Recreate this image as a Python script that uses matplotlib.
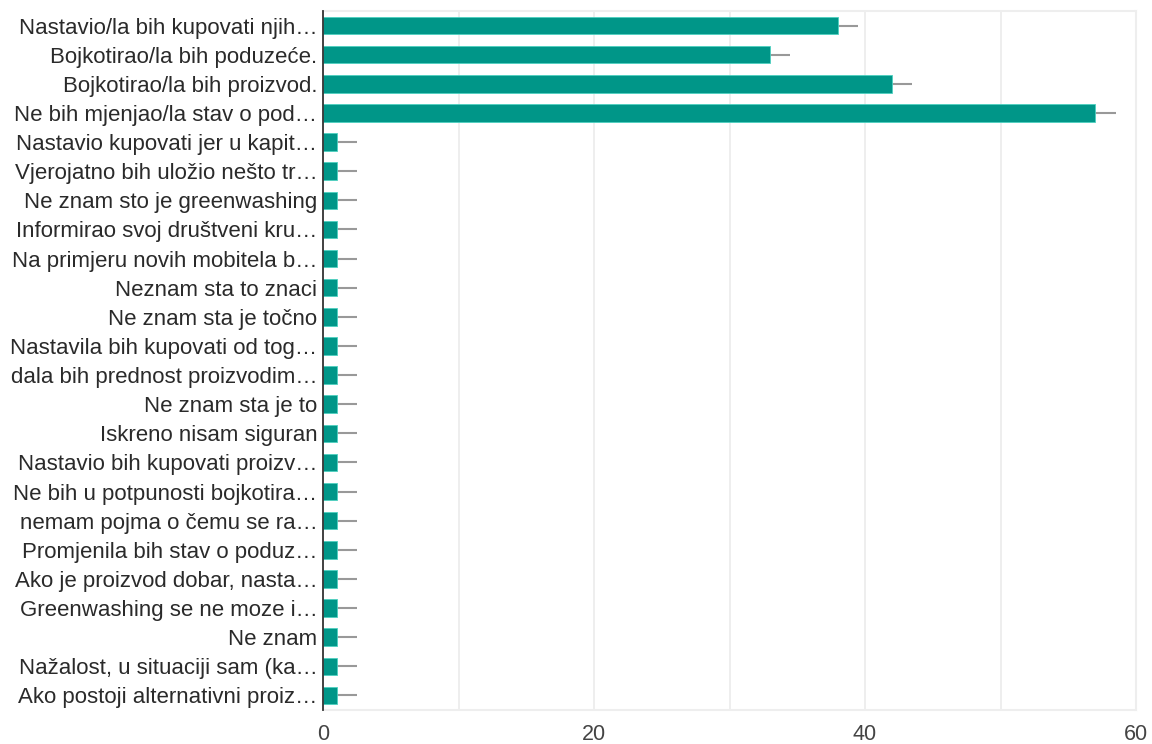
import matplotlib
matplotlib.use("Agg")
import matplotlib.pyplot as plt
import numpy as np

categories = [
    "Nastavio/la bih kupovati njih…",
    "Bojkotirao/la bih poduzeće.",
    "Bojkotirao/la bih proizvod.",
    "Ne bih mjenjao/la stav o pod…",
    "Nastavio kupovati jer u kapit…",
    "Vjerojatno bih uložio nešto tr…",
    "Ne znam sto je greenwashing",
    "Informirao svoj društveni kru…",
    "Na primjeru novih mobitela b…",
    "Neznam sta to znaci",
    "Ne znam sta je točno",
    "Nastavila bih kupovati od tog…",
    "dala bih prednost proizvodim…",
    "Ne znam sta je to",
    "Iskreno nisam siguran",
    "Nastavio bih kupovati proizv…",
    "Ne bih u potpunosti bojkotira…",
    "nemam pojma o čemu se ra…",
    "Promjenila bih stav o poduz…",
    "Ako je proizvod dobar, nasta…",
    "Greenwashing se ne moze i…",
    "Ne znam",
    "Nažalost, u situaciji sam (ka…",
    "Ako postoji alternativni proiz…",
]
values = [38, 33, 42, 57] + [1] * 20
errors = [1.5] * 24
xticks = [0, 20, 40, 60]

plt.rcParams['font.family'] = ['Liberation Sans', 'DejaVu Sans']

fig = plt.figure(figsize=(11.52, 7.44), dpi=100)
ax = fig.add_axes([323/1152, 1 - 710/744, (1136-323)/1152, (710-11)/744])

y = np.arange(len(categories))
ax.errorbar(values, y, xerr=errors, fmt='none', ecolor="#999999", elinewidth=1.5,
            capsize=0, zorder=2)
ax.barh(y, values, height=0.6, color="#009688", edgecolor="#4dd0c0", linewidth=0.6,
        zorder=3)

ax.set_ylim(len(categories) - 0.5, -0.5)
ax.set_xlim(0, 60)
ax.set_xticks(xticks)
ax.set_xticks(np.arange(0, 61, 10), minor=True)
ax.set_yticks(y)
ax.set_yticklabels(categories, fontsize=16, color="#2a2a2a")
ax.tick_params(axis='x', which='both', length=0, labelsize=15.5, labelcolor="#444444", pad=10)
ax.tick_params(axis='y', length=0, pad=4)
ax.grid(axis='x', which='both', color="#ebebeb", linewidth=1.2, zorder=0)
for s in ['top', 'right', 'bottom']:
    ax.spines[s].set_color("#eeeeee")
    ax.spines[s].set_linewidth(1.5)
ax.spines['left'].set_color("#333333")
ax.spines['left'].set_linewidth(1.3)
ax.spines['left'].set_zorder(5)

fig.savefig("out.png", dpi=100)
